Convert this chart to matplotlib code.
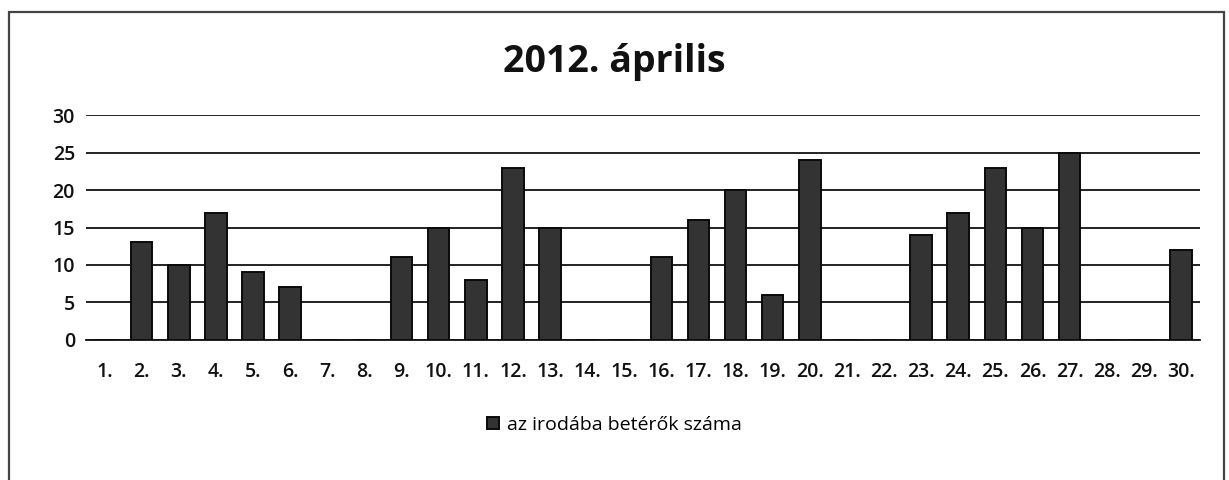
import numpy as np
import matplotlib.pyplot as plt
from matplotlib.patches import Rectangle

days = [f"{d}." for d in range(1, 31)]
visitors = [0, 13, 10, 17, 9, 7, 0, 0, 11, 15, 8, 23, 15, 0, 0,
            11, 16, 20, 6, 24, 0, 0, 14, 17, 23, 15, 25, 0, 0, 12]
series_name = "az irodába betérők száma"
title = "2012. április"

plt.rcParams['font.family'] = ['Open Sans', 'DejaVu Sans']

fig = plt.figure(figsize=(12.29, 4.8), dpi=100)
ax = fig.add_axes([0.070, 0.292, 0.906, 0.468])

x = np.arange(len(days))
ax.bar(x, visitors, width=0.58, color='#333333', edgecolor='#0a0a0a',
       linewidth=1.4, label=series_name, zorder=3)

ax.set_xlim(-0.5, len(days) - 0.5)
ax.set_ylim(0, 30)
ax.set_yticks(range(0, 31, 5))
ax.yaxis.grid(True, color='#111111', linewidth=1.3, zorder=0)
ax.set_xticks(x)
ax.set_xticklabels(days)
ax.tick_params(axis='both', length=0, labelsize=14, colors='#111111')
ax.tick_params(axis='x', pad=16)
ax.tick_params(axis='y', pad=8)
for lbl in ax.get_xticklabels() + ax.get_yticklabels():
    lbl.set_fontweight('semibold')
for s in ['top', 'right', 'left']:
    ax.spines[s].set_visible(False)
ax.spines['bottom'].set_color('#111111')
ax.spines['bottom'].set_linewidth(1.3)

fig.text(0.5, 0.85, title, ha='center', va='baseline', fontsize=27,
         fontweight='bold', color='#111111')

fig.legend(loc='center', bbox_to_anchor=(0.5, 0.115), frameon=False,
           fontsize=14, handlelength=0.6, handleheight=0.6, handletextpad=0.4)

fig.patches.append(Rectangle((0.0075, -0.02), 0.9885, 0.995, transform=fig.transFigure,
                             fill=False, edgecolor='#444444', linewidth=1.6))

fig.savefig('out.png', dpi=100)
